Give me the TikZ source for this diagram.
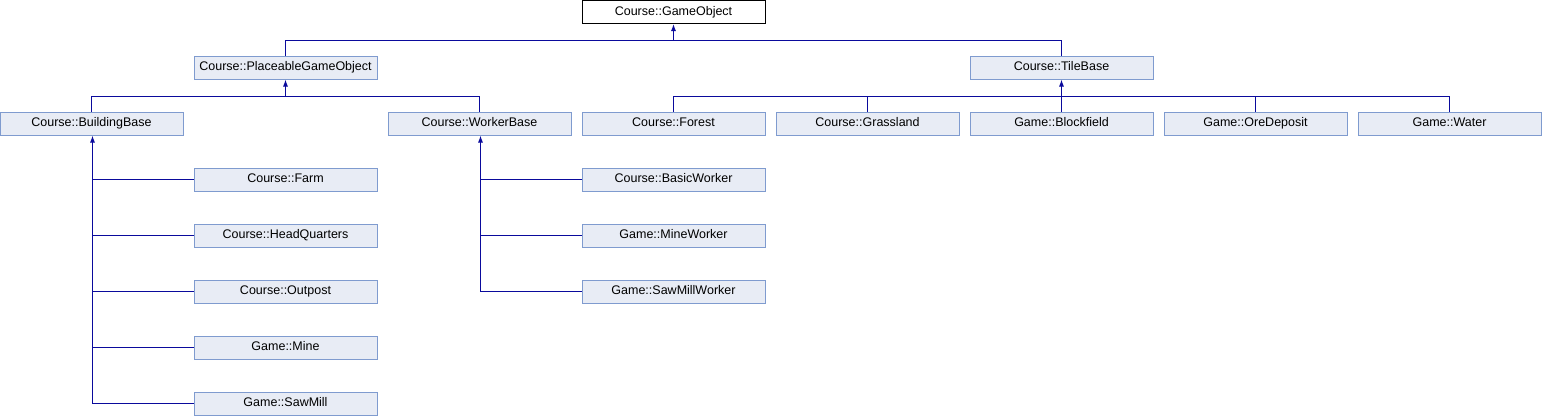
\documentclass[tikz,border=0pt]{standalone}
\usepackage{fontspec}
\setmainfont{Liberation Sans}
\usetikzlibrary{arrows.meta}
\definecolor{boxfill}{HTML}{E8ECF5}
\definecolor{boxline}{HTML}{7F9BCF}
\definecolor{conn}{HTML}{0A0A9C}
\tikzset{
  cls/.style={draw=boxline, fill=boxfill, line width=1pt, minimum width=183pt, minimum height=23pt, inner sep=0pt, text height=9pt, text depth=2.6pt, font=\fontsize{12.5}{14}\selectfont},
  root/.style={cls, draw=black, fill=white},
  conline/.style={draw=conn, line width=1pt},
  inh/.style={conline, -{Latex[length=7pt,width=5pt]}}
}
\begin{document}
\begin{tikzpicture}[x=1pt,y=-1pt]
\useasboundingbox (0,0) rectangle (1542,416);
% nodes
\node[root] (go) at (673.5,12) {Course::GameObject};
\node[cls] (pgo) at (285.5,67.5) {Course::PlaceableGameObject};
\node[cls] (tb) at (1061.5,67.5) {Course::TileBase};
\node[cls] (bb) at (91.5,123.5) {Course::BuildingBase};
\node[cls] (wb) at (479.5,123.5) {Course::WorkerBase};
\node[cls] (forest) at (673.5,123.5) {Course::Forest};
\node[cls] (grass) at (867.5,123.5) {Course::Grassland};
\node[cls] (block) at (1061.5,123.5) {Game::Blockfield};
\node[cls] (ore) at (1255.5,123.5) {Game::OreDeposit};
\node[cls] (water) at (1449.5,123.5) {Game::Water};
\node[cls] (farm) at (285.5,179.5) {Course::Farm};
\node[cls] (hq) at (285.5,235.5) {Course::HeadQuarters};
\node[cls] (outpost) at (285.5,291.5) {Course::Outpost};
\node[cls] (mine) at (285.5,347.5) {Game::Mine};
\node[cls] (saw) at (285.5,403.5) {Game::SawMill};
\node[cls] (basic) at (673.5,179.5) {Course::BasicWorker};
\node[cls] (mw) at (673.5,235.5) {Game::MineWorker};
\node[cls] (smw) at (673.5,291.5) {Game::SawMillWorker};
% junctions
\coordinate (j1) at (673.5,40.5);
\coordinate (j2) at (285.5,96.5);
\coordinate (j3) at (1061.5,96.5);
\coordinate (tbb) at (92.5,403.5);
\coordinate (twb) at (480.5,291.5);
% GameObject children
\draw[conline] (pgo.north) |- (j1);
\draw[conline] (tb.north) |- (j1);
\draw[inh] (j1) -- (go.south);
% Placeable children
\draw[conline] (bb.north) |- (j2);
\draw[conline] (wb.north) |- (j2);
\draw[inh] (j2) -- (pgo.south);
% TileBase children
\draw[conline] (forest.north) |- (j3);
\draw[conline] (grass.north) |- (j3);
\draw[conline] (ore.north) |- (j3);
\draw[conline] (water.north) |- (j3);
\draw[inh] (block.north) -- (tb.south);
% BuildingBase children
\draw[conline] (farm.west) -- (farm.west -| tbb);
\draw[conline] (hq.west) -- (hq.west -| tbb);
\draw[conline] (outpost.west) -- (outpost.west -| tbb);
\draw[conline] (mine.west) -- (mine.west -| tbb);
\draw[conline] (saw.west) -- (tbb);
\draw[inh] (tbb) -- (tbb |- bb.south);
% WorkerBase children
\draw[conline] (basic.west) -- (basic.west -| twb);
\draw[conline] (mw.west) -- (mw.west -| twb);
\draw[conline] (smw.west) -- (twb);
\draw[inh] (twb) -- (twb |- wb.south);
\end{tikzpicture}
\end{document}
